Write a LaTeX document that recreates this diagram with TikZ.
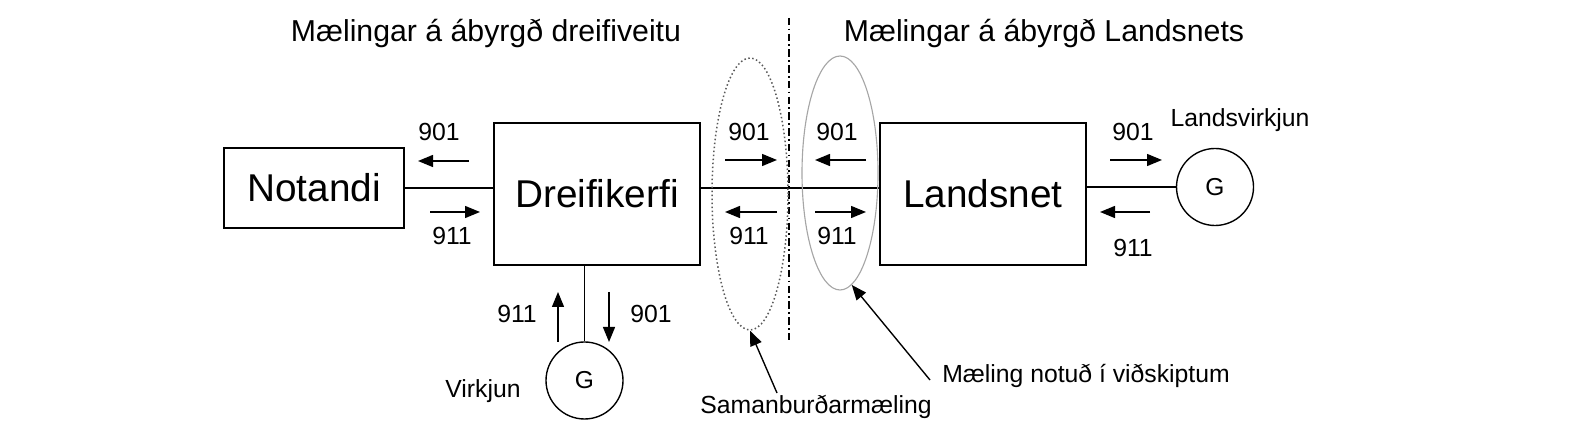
\documentclass[tikz,border=0pt]{standalone}
\usepackage{fontspec}
\setmainfont{Liberation Sans}[Ligatures=NoCommon]
\usetikzlibrary{arrows.meta,shapes.geometric}

\begin{document}
\begin{tikzpicture}[x=0.4pt,y=-0.4pt,line width=0.55pt,
    box/.style={draw,inner sep=0pt,font=\fontsize{15.5}{18}\selectfont},
    gen/.style={draw,circle,minimum size=30.8pt,inner sep=0pt,font=\fontsize{9.8}{11}\selectfont},
    lbl/.style={anchor=base,inner sep=0pt,font=\fontsize{9.9}{11}\selectfont},
    ttl/.style={anchor=base,inner sep=0pt,font=\fontsize{12.1}{14}\selectfont},
    flow/.style={-{Triangle[length=6pt,width=4.8pt]}}]
        \useasboundingbox (0,0) rectangle (1583,444);
        % titles
        \node[ttl] (t1) at (486,42) {Mælingar á ábyrgð dreifiveitu};
        \node[ttl] (t2) at (1044,42) {Mælingar á ábyrgð Landsnets};
        % boxes and generators
        \node[box,minimum width=72pt,minimum height=32pt] (nt) at (314,188) {Notandi};
        \node[box,minimum width=82.4pt,minimum height=56.8pt] (dk) at (597,194) {Dreifikerfi};
        \node[box,minimum width=82.4pt,minimum height=56.8pt] (ln) at (983,194) {Landsnet};
        \node[gen] (lg) at (1215,187) {G};
        \node[gen] (vg) at (584.5,380.5) {G};
        \node[lbl] (lgname) at (1240,127) {Landsvirkjun};
        \node[lbl] (vgname) at (483,398) {Virkjun};
        % lines
        \draw (nt.east) -- (nt.east -| dk.west);
        \draw (dk.east |- nt.east) -- (ln.west |- nt.east);
        \draw (ln.east |- lg.west) -- (lg.west);
        \draw (vg.north |- dk.south) -- (vg.north);
        % border
        \coordinate (mt) at (789,18);
        \coordinate (mb) at (789,340);
        \draw[line width=0.5pt,dash pattern=on 3pt off 1.3pt on 0.7pt off 1.3pt] (mt) -- (mb);
        % meters
        \node[draw,ellipse,black!65,densely dotted,line width=0.6pt,inner sep=0pt,
              minimum width=30.4pt,minimum height=108.8pt] (sa) at (750,194) {};
        \node[draw,ellipse,gray!70,line width=0.45pt,inner sep=0pt,
              minimum width=30.4pt,minimum height=93.6pt] (vi) at (840,173) {};
        \node[lbl] (saname) at (816,414) {Samanburðarmæling};
        \node[lbl] (viname) at (1086,383) {Mæling notuð í viðskiptum};
        \coordinate (sastart) at (777,393);
        \coordinate (vistart) at (930,380);
        \draw[flow] (sastart) -- (sa.south);
        \draw[flow] (vistart) -- (vi.-84);
        % flows
        \node[lbl] (a1) at (439,141) {901};
        \node[lbl] (b1) at (452,245) {911};
        \draw[flow] (469,161) -- (418,161);
        \draw[flow] (430,212) -- (480,212);
        \node[lbl] (a2) at (749,141) {901};
        \node[lbl] (b2) at (749,245) {911};
        \draw[flow] (725,160) -- (777,160);
        \draw[flow] (777,212) -- (725,212);
        \node[lbl] (a3) at (837,141) {901};
        \node[lbl] (b3) at (837,245) {911};
        \draw[flow] (866,160) -- (815,160);
        \draw[flow] (815,212) -- (866,212);
        \node[lbl] (a4) at (1133,141) {901};
        \node[lbl] (b4) at (1133,257) {911};
        \draw[flow] (1110,160) -- (1162,160);
        \draw[flow] (1150,212) -- (1100,212);
        \node[lbl] (b5) at (517,323) {911};
        \node[lbl] (a5) at (651,323) {901};
        \draw[flow] (558,342) -- (558,292);
        \draw[flow] (609,292) -- (609,342);
      \end{tikzpicture}
\end{document}
